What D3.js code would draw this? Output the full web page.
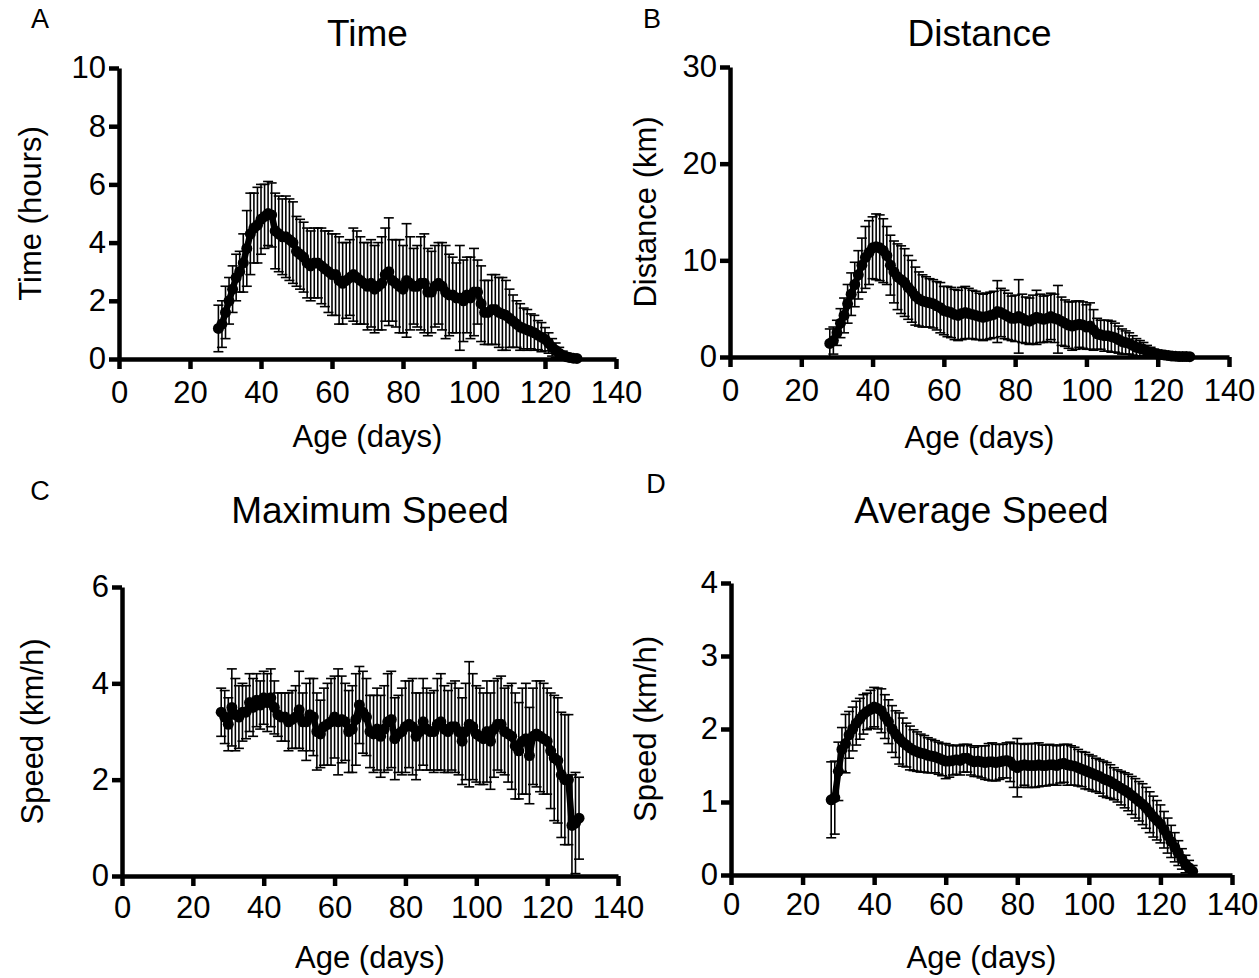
<!DOCTYPE html>
<html>
<head>
<meta charset="utf-8">
<script src="https://cdn.jsdelivr.net/npm/d3@7"></script>
<style>
  body { margin: 0; background: #fff; }
  svg text { font-family: "Liberation Sans", Arial, sans-serif; fill: #000; }
</style>
</head>
<body>
<div id="chart"></div>
<script>
// Age in days, one point per day
const days = [28,29,30,31,32,33,34,35,36,37,38,39,40,41,42,43,44,45,46,47,48,49,50,51,52,53,54,55,56,57,58,59,60,61,62,63,64,65,66,67,68,69,70,71,72,73,74,75,76,77,78,79,80,81,82,83,84,85,86,87,88,89,90,91,92,93,94,95,96,97,98,99,100,101,102,103,104,105,106,107,108,109,110,111,112,113,114,115,116,117,118,119,120,121,122,123,124,125,126,127,128,129];

// A - Time (hours)
const timeMean = [1.05,1.2,1.6,2.0,2.4,2.8,3.0,3.3,3.8,4.3,4.5,4.6,4.8,4.9,5.0,4.95,4.4,4.3,4.2,4.2,4.1,4.0,3.7,3.6,3.5,3.3,3.2,3.3,3.3,3.2,3.1,3.0,2.9,2.9,2.7,2.6,2.7,2.8,2.9,2.8,2.7,2.6,2.5,2.6,2.4,2.5,2.6,2.9,3.0,2.7,2.6,2.5,2.4,2.7,2.6,2.5,2.5,2.6,2.6,2.3,2.3,2.5,2.6,2.5,2.3,2.2,2.2,2.1,2.1,2.0,2.2,2.1,2.3,2.3,1.9,1.6,1.6,1.7,1.7,1.6,1.55,1.5,1.4,1.3,1.2,1.1,1.05,1.0,0.95,0.9,0.82,0.75,0.68,0.55,0.4,0.3,0.2,0.12,0.08,0.05,0.03,0.02];
const timeSD = [0.8,0.8,0.9,0.8,0.8,0.8,0.7,1.0,1.3,1.4,1.2,1.3,1.2,1.1,1.1,1.1,1.3,1.3,1.3,1.4,1.4,1.4,1.2,1.2,1.2,1.2,1.2,1.2,1.2,1.3,1.3,1.4,1.4,1.4,1.5,1.4,1.3,1.3,1.6,1.6,1.5,1.4,1.5,1.5,1.5,1.5,1.6,1.6,1.85,1.4,1.5,1.6,1.5,1.95,1.6,1.3,1.4,1.6,1.7,1.5,1.4,1.4,1.4,1.5,1.6,1.4,1.3,1.2,1.8,1.4,1.3,1.4,1.5,1.1,1.3,1.1,1.1,1.2,1.2,1.2,1.25,1.2,1.0,0.9,0.8,0.8,0.7,0.7,0.6,0.6,0.5,0.5,0.4,0.35,0.3,0.25,0.2,0.15,0.1,0.08,0.05,0.04];

// B - Distance (km)
const distMean = [1.4,1.7,2.5,3.5,4.3,5.5,6.5,7.5,8.5,9.5,10.3,10.8,11.3,11.4,11.3,11.0,10.5,9.5,8.8,8.3,8.0,7.7,7.2,6.8,6.3,6.0,5.8,5.7,5.6,5.5,5.3,5.1,4.8,4.7,4.6,4.4,4.3,4.5,4.6,4.5,4.4,4.3,4.2,4.1,4.2,4.3,4.4,4.7,4.6,4.4,4.2,4.0,4.0,4.2,4.0,3.8,3.7,3.9,4.1,4.0,3.9,4.0,4.2,4.0,3.9,3.7,3.5,3.3,3.2,3.3,3.4,3.3,3.1,3.2,2.8,2.4,2.3,2.2,2.2,2.1,2.0,1.8,1.6,1.5,1.4,1.2,1.0,0.9,0.8,0.6,0.5,0.4,0.3,0.25,0.2,0.15,0.1,0.08,0.05,0.05,0.04,0.03];
const distSD = [1.5,1.4,1.3,1.5,1.8,2.0,2.2,2.3,2.5,2.8,3.2,3.3,3.2,3.4,3.4,3.3,3.0,3.1,3.2,3.4,3.5,3.5,3.3,3.2,3.0,2.8,2.7,2.6,2.5,2.5,2.5,2.6,2.5,2.6,2.6,2.6,2.6,2.7,2.7,2.6,2.5,2.5,2.4,2.4,2.4,2.4,2.4,3.2,2.5,2.5,2.4,2.3,2.4,3.8,2.5,2.4,2.4,2.5,2.8,2.5,2.4,2.4,2.4,2.5,3.5,2.5,2.4,2.4,2.5,2.5,2.4,2.4,2.3,2.4,2.1,1.6,1.5,1.6,1.6,1.6,1.5,1.4,1.3,1.2,1.1,1.0,0.9,0.8,0.7,0.6,0.5,0.4,0.35,0.3,0.25,0.2,0.15,0.1,0.08,0.06,0.05,0.04];

// C - Maximum speed (km/h)
const maxMean = [3.4,3.3,3.15,3.5,3.35,3.3,3.4,3.4,3.6,3.5,3.65,3.55,3.7,3.6,3.7,3.5,3.35,3.3,3.3,3.2,3.25,3.3,3.45,3.2,3.2,3.35,3.3,3.0,2.95,3.1,3.15,3.2,3.3,3.2,3.25,3.2,3.0,3.05,3.25,3.55,3.4,3.3,3.0,2.95,3.05,2.9,3.05,3.2,3.25,2.85,2.95,3.0,3.1,3.15,3.1,2.9,3.0,3.2,3.05,3.0,3.0,3.15,3.2,3.05,3.0,3.1,3.1,3.0,2.8,3.0,3.15,3.1,2.95,2.9,2.85,3.0,2.8,3.05,3.15,3.15,3.0,2.95,2.9,2.7,2.6,2.8,2.85,2.5,2.9,2.95,2.9,2.85,2.8,2.6,2.45,2.4,2.1,2.0,2.0,1.05,1.1,1.2];
const maxSD = [0.5,0.55,0.55,0.8,0.75,0.65,0.6,0.55,0.6,0.6,0.55,0.5,0.55,0.6,0.6,0.55,0.45,0.5,0.5,0.6,0.6,0.65,0.8,0.6,0.8,0.75,0.8,0.8,0.7,0.8,0.85,0.9,0.85,1.1,0.9,0.8,0.85,0.9,0.95,0.8,0.85,0.8,0.75,0.8,0.85,0.85,0.9,1.0,1.0,0.85,0.8,0.9,0.95,0.9,1.0,0.9,0.8,0.9,0.85,0.8,0.85,0.95,1.0,0.9,0.85,0.9,0.95,0.9,0.9,1.0,1.3,1.1,1.0,1.0,0.95,1.05,1.0,1.0,0.95,1.0,0.9,1.0,1.1,1.1,1.0,1.1,1.15,1.0,1.0,1.1,1.15,1.15,1.1,1.2,1.3,1.3,1.3,1.35,1.35,1.05,1.05,0.85];

// D - Average speed (km/h)
const avgMean = [1.03,1.06,1.42,1.72,1.8,1.92,2.0,2.08,2.14,2.2,2.24,2.27,2.3,2.28,2.25,2.17,2.1,2.0,1.93,1.87,1.82,1.78,1.74,1.71,1.69,1.67,1.66,1.64,1.63,1.62,1.6,1.58,1.56,1.56,1.57,1.58,1.57,1.6,1.6,1.57,1.55,1.56,1.55,1.54,1.55,1.55,1.54,1.55,1.56,1.57,1.55,1.5,1.47,1.5,1.51,1.5,1.5,1.5,1.51,1.5,1.5,1.51,1.51,1.5,1.52,1.53,1.51,1.5,1.49,1.47,1.45,1.43,1.41,1.39,1.37,1.35,1.32,1.3,1.28,1.25,1.22,1.19,1.16,1.13,1.09,1.05,1.01,0.97,0.92,0.86,0.8,0.75,0.7,0.62,0.54,0.46,0.38,0.3,0.22,0.15,0.1,0.05];
const avgSD = [0.52,0.5,0.4,0.3,0.4,0.32,0.3,0.3,0.28,0.27,0.25,0.26,0.27,0.28,0.3,0.3,0.3,0.32,0.32,0.35,0.33,0.3,0.3,0.28,0.27,0.26,0.25,0.24,0.23,0.22,0.22,0.22,0.24,0.22,0.2,0.2,0.2,0.19,0.19,0.2,0.2,0.21,0.22,0.23,0.25,0.26,0.25,0.24,0.23,0.24,0.27,0.3,0.4,0.3,0.28,0.3,0.3,0.3,0.3,0.28,0.28,0.28,0.27,0.27,0.26,0.26,0.28,0.27,0.26,0.25,0.24,0.25,0.24,0.24,0.23,0.23,0.24,0.24,0.23,0.22,0.22,0.23,0.24,0.25,0.26,0.27,0.27,0.28,0.28,0.28,0.28,0.27,0.26,0.25,0.24,0.22,0.2,0.17,0.14,0.12,0.1,0.08];

const xTicks = [0,20,40,60,80,100,120,140];

const width = 1259;
const height = 978;

const panels = [
    { letter: "A", title: "Time", ylabel: "Time (hours)", mean: timeMean, sd: timeSD,
      yMax: 10, yTicks: [0,2,4,6,8,10],
      left: 119, right: 616, top: 68, bottom: 359,
      letterPos: [40, 28], titleY: 46, tickDy: 44, xlabelY: 447, ylabelX: 30 },
    { letter: "B", title: "Distance", ylabel: "Distance (km)", mean: distMean, sd: distSD,
      yMax: 30, yTicks: [0,10,20,30],
      left: 730, right: 1229, top: 67, bottom: 357,
      letterPos: [652, 28], titleY: 46, tickDy: 44, xlabelY: 448, ylabelX: 645 },
    { letter: "C", title: "Maximum Speed", ylabel: "Speed (km/h)", mean: maxMean, sd: maxSD,
      yMax: 6, yTicks: [0,2,4,6],
      left: 122, right: 618, top: 587, bottom: 876,
      letterPos: [40, 500], titleY: 523, tickDy: 42, xlabelY: 968, ylabelX: 32 },
    { letter: "D", title: "Average Speed", ylabel: "Speed (km/h)", mean: avgMean, sd: avgSD,
      yMax: 4, yTicks: [0,1,2,3,4],
      left: 731, right: 1232, top: 583, bottom: 875,
      letterPos: [656, 493], titleY: 523, tickDy: 40, xlabelY: 968, ylabelX: 645 }
];

const svg = d3.select("#chart")
    .append("svg")
    .attr("width", width)
    .attr("height", height);

panels.forEach(p => {
    const g = svg.append("g");

    const x = d3.scaleLinear().domain([0, 140]).range([p.left, p.right]);
    const y = d3.scaleLinear().domain([0, p.yMax]).range([p.bottom, p.top]);

    const data = days.map((d, i) => ({ day: d, mean: p.mean[i], sd: p.sd[i] }));

    // error bars (mean +/- SD)
    const bars = g.append("g").attr("stroke", "#000").attr("stroke-width", 1.6);
    bars.selectAll("line.v")
        .data(data)
        .join("line")
        .attr("class", "v")
        .attr("x1", d => x(d.day))
        .attr("x2", d => x(d.day))
        .attr("y1", d => y(Math.max(0, d.mean - d.sd)))
        .attr("y2", d => y(d.mean + d.sd));
    bars.selectAll("line.top")
        .data(data)
        .join("line")
        .attr("class", "top")
        .attr("x1", d => x(d.day) - 5)
        .attr("x2", d => x(d.day) + 5)
        .attr("y1", d => y(d.mean + d.sd))
        .attr("y2", d => y(d.mean + d.sd));
    bars.selectAll("line.bot")
        .data(data.filter(d => d.mean - d.sd > 0))
        .join("line")
        .attr("class", "bot")
        .attr("x1", d => x(d.day) - 5)
        .attr("x2", d => x(d.day) + 5)
        .attr("y1", d => y(d.mean - d.sd))
        .attr("y2", d => y(d.mean - d.sd));

    // mean line + markers
    const line = d3.line().x(d => x(d.day)).y(d => y(d.mean));
    g.append("path")
        .datum(data)
        .attr("fill", "none")
        .attr("stroke", "#000")
        .attr("stroke-width", 6.5)
        .attr("stroke-linejoin", "round")
        .attr("d", line);
    g.selectAll("circle")
        .data(data)
        .join("circle")
        .attr("cx", d => x(d.day))
        .attr("cy", d => y(d.mean))
        .attr("r", 5.5)
        .attr("fill", "#000");

    // axes
    const xAxis = g.append("g")
        .attr("transform", `translate(0, ${p.bottom})`)
        .call(d3.axisBottom(x).tickValues(xTicks).tickSize(10).tickSizeOuter(0).tickPadding(6));
    const yAxis = g.append("g")
        .attr("transform", `translate(${p.left}, 0)`)
        .call(d3.axisLeft(y).tickValues(p.yTicks).tickFormat(d3.format("~g"))
            .tickSize(10).tickSizeOuter(0).tickPadding(3));

    [xAxis, yAxis].forEach(a => {
        a.select(".domain").attr("stroke", "#000").attr("stroke-width", 4.5);
        a.selectAll(".tick line").attr("stroke", "#000").attr("stroke-width", 4.5);
        a.selectAll(".tick text")
            .attr("fill", "#000")
            .style("font-family", '"Liberation Sans", Arial, sans-serif')
            .style("font-size", "31px");
    });
    xAxis.selectAll(".tick text").attr("dy", null).attr("y", p.tickDy);

    // titles
    g.append("text")
        .attr("x", (p.left + p.right) / 2)
        .attr("y", p.titleY)
        .attr("text-anchor", "middle")
        .style("font-size", "37px")
        .text(p.title);
    g.append("text")
        .attr("x", (p.left + p.right) / 2)
        .attr("y", p.xlabelY)
        .attr("text-anchor", "middle")
        .style("font-size", "31px")
        .text("Age (days)");
    g.append("text")
        .attr("transform", `translate(${p.ylabelX}, ${(p.top + p.bottom) / 2}) rotate(-90)`)
        .attr("text-anchor", "middle")
        .attr("dy", "0.35em")
        .style("font-size", "31px")
        .text(p.ylabel);
    g.append("text")
        .attr("x", p.letterPos[0])
        .attr("y", p.letterPos[1])
        .attr("text-anchor", "middle")
        .style("font-size", "27px")
        .text(p.letter);
});
</script>
</body>
</html>
